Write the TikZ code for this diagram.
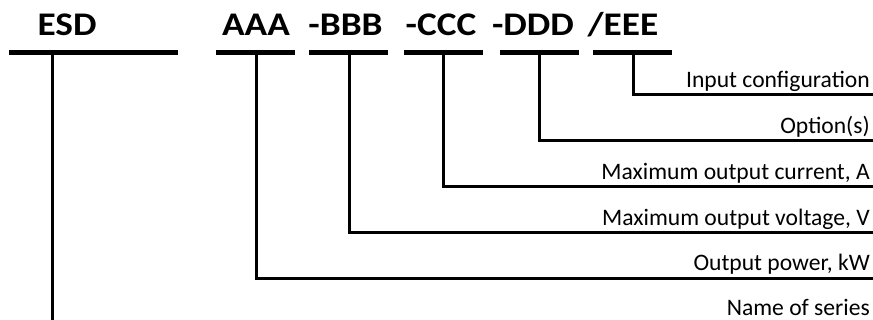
\documentclass[tikz,border=0pt]{standalone}
\usepackage{fontspec}
\setmainfont{Carlito}
\newfontfamily\codefont[FakeStretch=1.13]{Carlito}
\usepackage{tikz}
\usetikzlibrary{positioning}

\tikzset{
  code/.style={anchor=base, inner sep=0pt, font=\codefont\bfseries\fontsize{33}{40}\selectfont},
  lbl/.style={anchor=base east, inner sep=0pt, text depth=0pt, font=\fontsize{23.6}{28}\selectfont},
  bar/.style={line width=5pt},
  link/.style={line width=3pt}
}

\begin{document}
\begin{tikzpicture}[x=1pt, y=-1pt]
        \clip (0,0) rectangle (873,320);

        % code groups
        \node[code] (esd) at (67,35.5) {ESD};
        \node[code] (aaa) at (256,35.5) {AAA};
        \node[code] (bbb) at (345.5,35.5) {-BBB};
        \node[code] (ccc) at (441,35.5) {-CCC};
        \node[code] (ddd) at (533,35.5) {-DDD};
        \node[code] (eee) at (623,35.5) {/EEE};

        % bars under the codes
        \draw[bar] (9,52.5) -- (178,52.5);
        \draw[bar] (216,52.5) -- (295,52.5);
        \draw[bar] (309,52.5) -- (388,52.5);
        \draw[bar] (404,52.5) -- (483,52.5);
        \draw[bar] (500,52.5) -- (579,52.5);
        \draw[bar] (593,52.5) -- (672,52.5);

        \coordinate (tesd) at (52,52.5);
        \coordinate (taaa) at (256,52.5);
        \coordinate (tbbb) at (349,52.5);
        \coordinate (tccc) at (443,52.5);
        \coordinate (tddd) at (539,52.5);
        \coordinate (teee) at (633,52.5);

        % meanings
        \node[lbl] (input) at (870,88) {Input configuration};
        \node[lbl] (opt) at (870,134) {Option(s)};
        \node[lbl] (curr) at (870,179.5) {Maximum output current, A};
        \node[lbl] (volt) at (870,225.5) {Maximum output voltage, V};
        \node[lbl] (power) at (870,271) {Output power, kW};
        \node[lbl] (series) at (870,315.5) {Name of series};

        \coordinate (einput) at (880,95);
        \coordinate (eopt) at (880,141);
        \coordinate (ecurr) at (880,186.7);
        \coordinate (evolt) at (880,232.7);
        \coordinate (epower) at (880,278.3);
        \coordinate (eseries) at (880,324);

        \draw[link] (teee) |- (einput);
        \draw[link] (tddd) |- (eopt);
        \draw[link] (tccc) |- (ecurr);
        \draw[link] (tbbb) |- (evolt);
        \draw[link] (taaa) |- (epower);
        \draw[link] (tesd) |- (eseries);
\end{tikzpicture}
\end{document}
